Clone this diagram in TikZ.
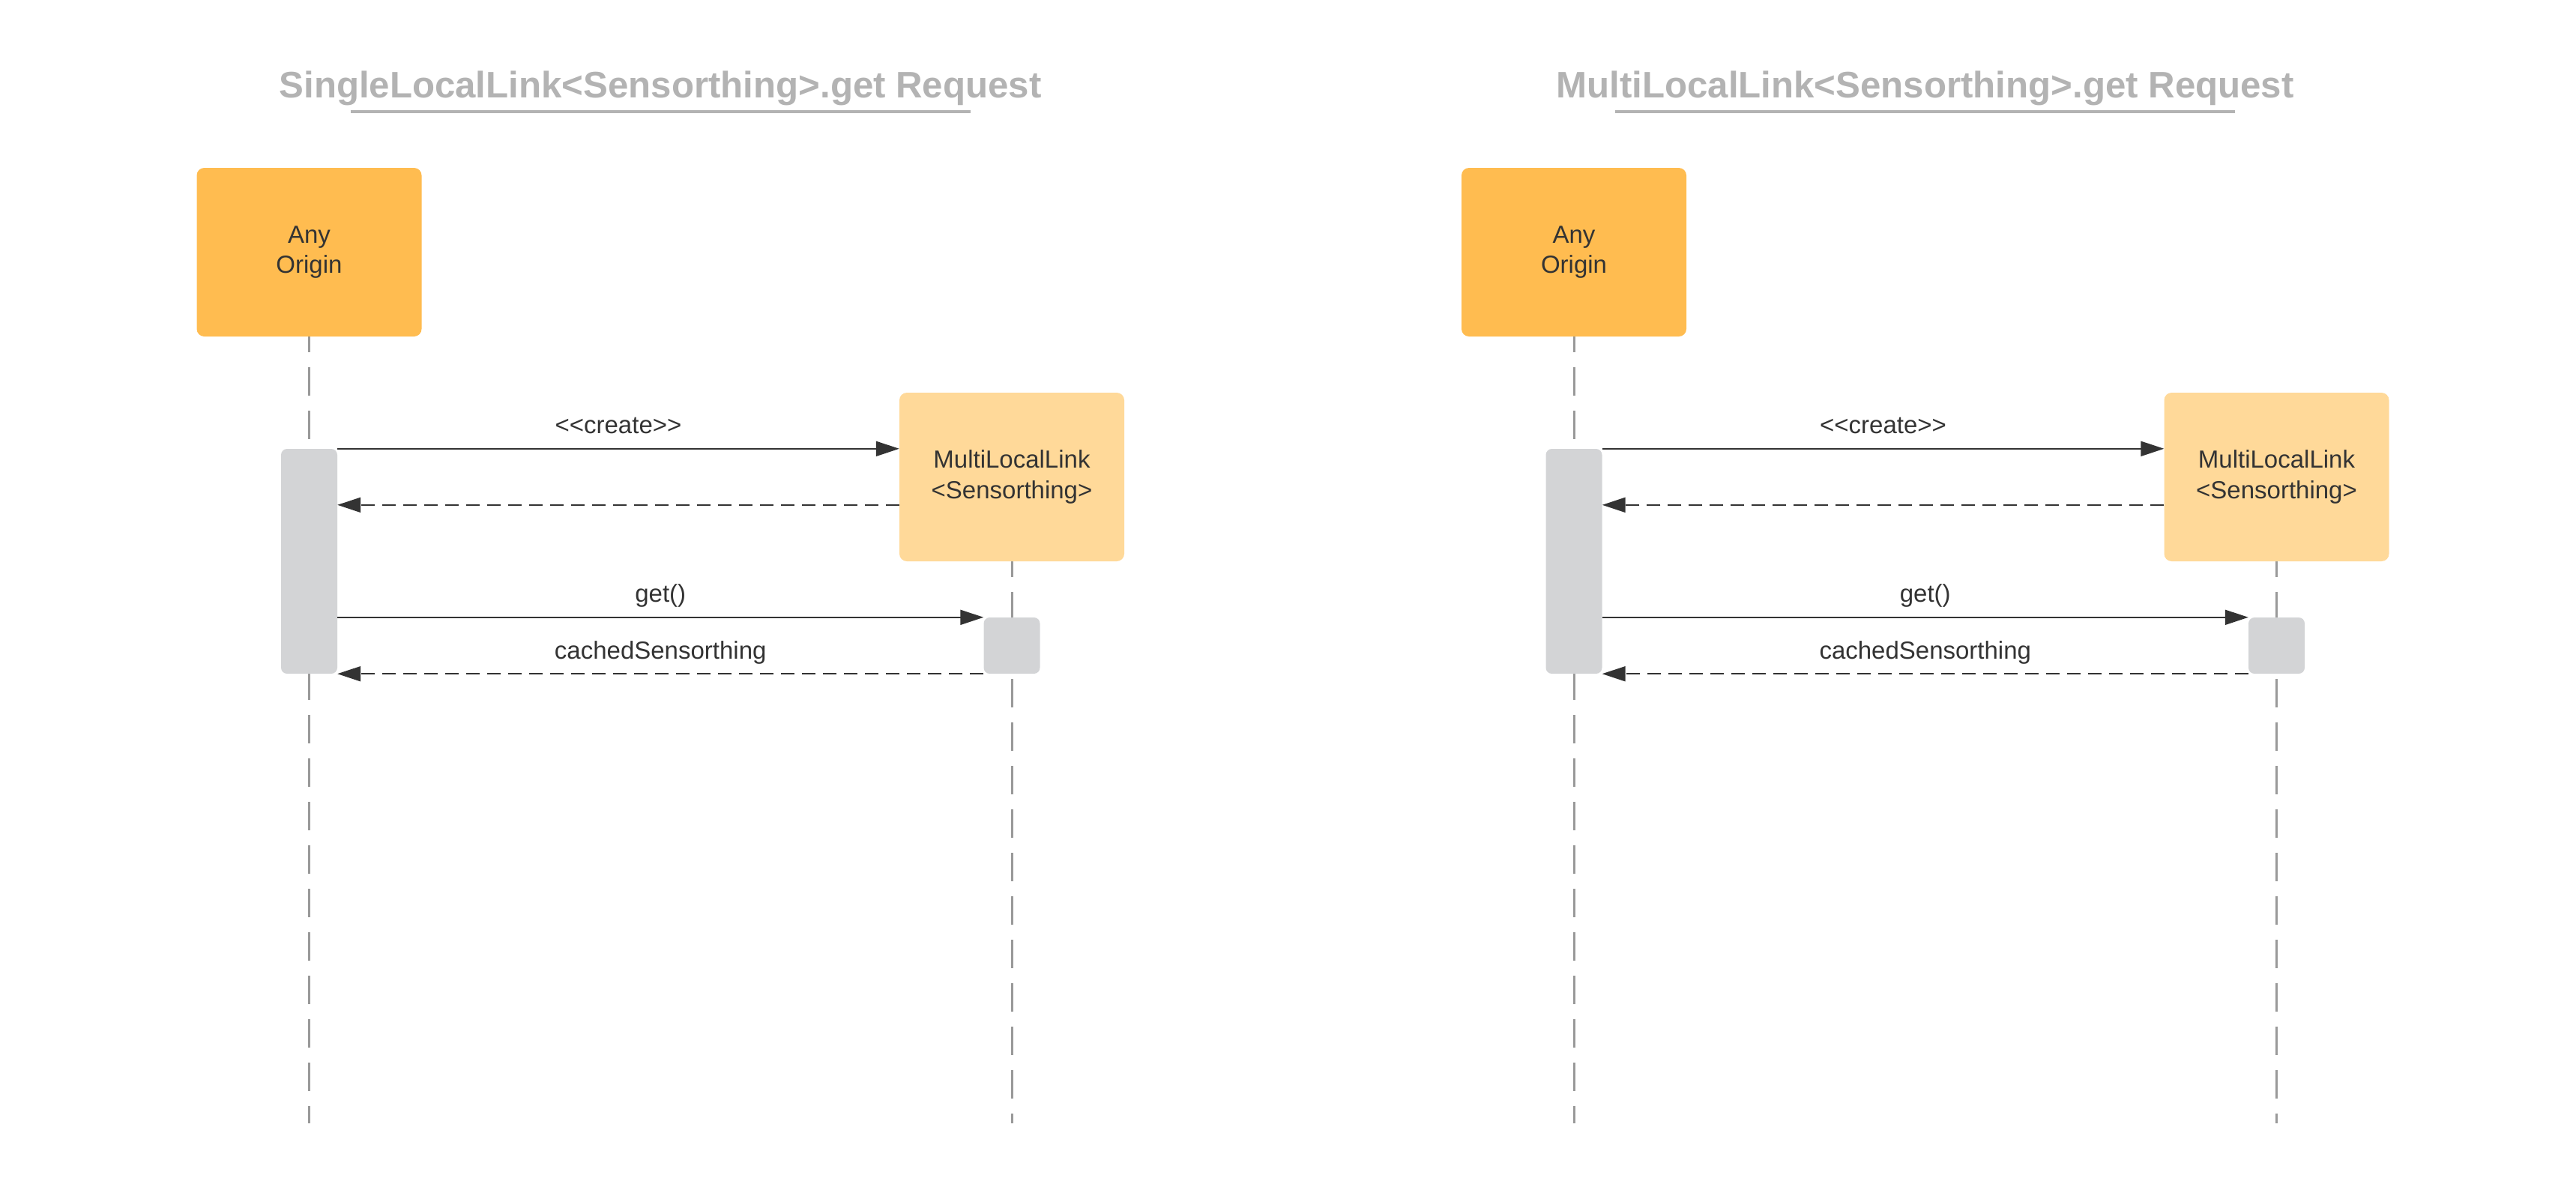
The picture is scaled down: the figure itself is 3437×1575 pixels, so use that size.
\documentclass[tikz,border=0pt]{standalone}
\usepackage{fontspec}
\setmainfont{Liberation Sans}
\usetikzlibrary{arrows.meta,calc}
\definecolor{txt}{HTML}{333333}
\definecolor{ttl}{HTML}{B3B3B3}
\definecolor{orgA}{HTML}{FFBC50}
\definecolor{orgB}{HTML}{FFD999}
\definecolor{actg}{HTML}{D3D4D6}
\definecolor{lifeg}{HTML}{999999}
\tikzset{
  titletext/.style={anchor=base, text=ttl, font=\fontsize{49.2}{58}\selectfont\bfseries, inner sep=0pt},
  titleline/.style={draw=ttl, line width=3.5pt},
  actorbox/.style={fill=orgA, rounded corners=10pt, minimum width=300pt, minimum height=225pt, inner sep=0pt, align=center, text=txt, font=\fontsize{33}{40.5}\selectfont},
  objbox/.style={actorbox, fill=orgB},
  actbar/.style={fill=actg, rounded corners=8pt, minimum width=75pt, inner sep=0pt},
  lifeline/.style={draw=lifeg, line width=3pt, dash pattern=on 38pt off 20pt},
  msg/.style={draw=txt, line width=2pt, -{Triangle[length=31pt,width=20pt]}},
  ret/.style={msg, dash pattern=on 18pt off 10pt},
  lbl/.style={anchor=base, yshift=20pt, text=txt, font=\fontsize{33}{40.5}\selectfont, inner sep=0pt}
}
\begin{document}
\begin{tikzpicture}[x=1pt,y=-1pt]
\useasboundingbox (0,0) rectangle (3437,1575);
% ---------- left diagram ----------
\node[titletext] (t1) at (881,130) {SingleLocalLink<Sensorthing>.get Request};
\draw[titleline] ($(t1.base)+(-413.5,19)$) -- ($(t1.base)+(413.5,19)$);
\coordinate (o1c) at (412.5,336.5);
\coordinate (m1c) at (1350,636.5);
\coordinate (o1end) at (412.5,1499);
\coordinate (m1end) at (1350,1499);
\path (o1c) ++(0,95.5) coordinate (o1ls);
\path (m1c) ++(0,95.5) coordinate (m1ls);
\draw[lifeline] (o1ls) -- (o1end);
\draw[lifeline] (m1ls) -- (m1end);
\node[actorbox] (o1) at (o1c) {Any\\Origin};
\node[objbox] (m1) at (m1c) {MultiLocalLink\\<Sensorthing>};
\node[actbar, minimum height=300pt] (a1) at (412.5,749) {};
\node[actbar, minimum height=75pt] (b1) at (1350,861.5) {};
\draw[msg] (a1.north east) -- (a1.north east -| m1.west) node[lbl, midway] {<{}<create>{}>};
\draw[ret] ([yshift=-75pt]a1.north east -| m1.west) -- ([yshift=-75pt]a1.north east);
\draw[msg] (b1.north west -| a1.east) -- (b1.north west) node[lbl, midway] {get()};
\draw[ret] (b1.south west) -- (b1.south west -| a1.east) node[lbl, midway] {cachedSensorthing};
% ---------- right diagram ----------
\node[titletext] (t2) at (2568.5,130) {MultiLocalLink<Sensorthing>.get Request};
\draw[titleline] ($(t2.base)+(-413.5,19)$) -- ($(t2.base)+(413.5,19)$);
\coordinate (o2c) at (2100,336.5);
\coordinate (m2c) at (3037.5,636.5);
\coordinate (o2end) at (2100,1499);
\coordinate (m2end) at (3037.5,1499);
\path (o2c) ++(0,95.5) coordinate (o2ls);
\path (m2c) ++(0,95.5) coordinate (m2ls);
\draw[lifeline] (o2ls) -- (o2end);
\draw[lifeline] (m2ls) -- (m2end);
\node[actorbox] (o2) at (o2c) {Any\\Origin};
\node[objbox] (m2) at (m2c) {MultiLocalLink\\<Sensorthing>};
\node[actbar, minimum height=300pt] (a2) at (2100,749) {};
\node[actbar, minimum height=75pt] (b2) at (3037.5,861.5) {};
\draw[msg] (a2.north east) -- (a2.north east -| m2.west) node[lbl, midway] {<{}<create>{}>};
\draw[ret] ([yshift=-75pt]a2.north east -| m2.west) -- ([yshift=-75pt]a2.north east);
\draw[msg] (b2.north west -| a2.east) -- (b2.north west) node[lbl, midway] {get()};
\draw[ret] (b2.south west) -- (b2.south west -| a2.east) node[lbl, midway] {cachedSensorthing};
\end{tikzpicture}
\end{document}
